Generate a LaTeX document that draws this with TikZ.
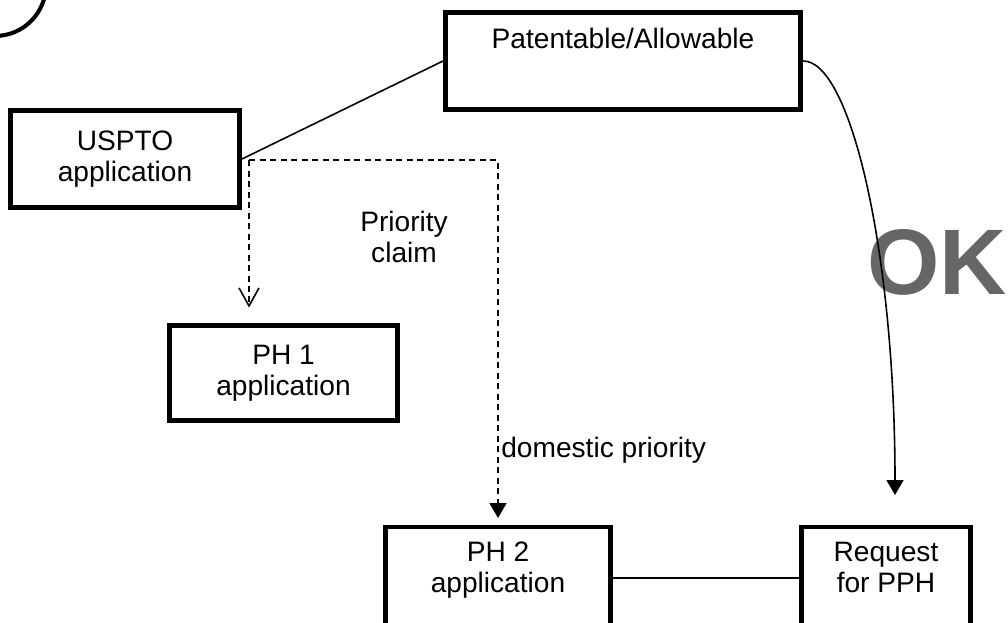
\documentclass[tikz,border=0pt]{standalone}
\usepackage{fontspec}
\setmainfont{Liberation Sans}
\usetikzlibrary{arrows.meta}

\begin{document}
\begin{tikzpicture}[
    every node/.style={font=\fontsize{16}{17.6}\selectfont},
    appbox/.style={draw, rectangle, line width=2.8pt, inner sep=0pt, align=center},
    link/.style={line width=0.9pt},
    prio/.style={line width=0.9pt, dash pattern=on 0.12cm off 0.09cm}
]
    \useasboundingbox (0,0) rectangle (20.16,-12.44);
    \draw[line width=2.3pt] (-0.1,0.3) circle (1.02cm);

    \node[appbox, minimum width=7.1cm, text height=0.71cm, text depth=1.23cm] (pat) at (12.46, -1.22) {Patentable/Allowable};
    \node[appbox, minimum width=4.58cm, minimum height=1.94cm] (uspto) at (2.5, -3.18) {USPTO\\application};
    \node[appbox, minimum width=4.56cm, minimum height=1.9cm] (ph1) at (5.67, -7.46) {PH 1\\application};
    \node[appbox, anchor=north, minimum width=4.5cm, text height=1.31cm, text depth=0.74cm] (ph2) at (9.96, -10.49) {PH 2\\application};
    \node[appbox, anchor=north, minimum width=3.38cm, text height=1.31cm, text depth=0.74cm] (req) at (17.72, -10.49) {Request\\for PPH};

    \node[align=center] (claim) at (8.08, -4.74) {Priority\\claim};
    \node[anchor=west, inner sep=0pt] (domestic) at (10.02, -9.0) {domestic priority};
    \node[font=\fontsize{53}{60}\bfseries\selectfont, text=black!60, inner sep=0pt] (ok) at (18.74, -5.24) {OK};

    \coordinate (fork) at (4.98, -3.2);
    \coordinate (reqin) at (17.9, -9.9);

    \draw[link] (uspto.east) -- (pat.west);
    \draw[prio, -{Straight Barb[length=3.6mm, width=4mm]}, shorten >=0.31cm] (fork) -- (fork |- ph1.north);
    \draw[prio, -{Triangle[length=3mm, width=3.4mm]}, shorten >=0.13cm] (fork) -| (ph2.north);
    \draw[link, -{Triangle[length=3mm, width=3.4mm]}] (pat.east) .. controls (17.0, -1.2) and (17.9, -5.0) .. (reqin);
    \draw[link] (ph2.east) -- (ph2.east -| req.west);
\end{tikzpicture}
\end{document}
